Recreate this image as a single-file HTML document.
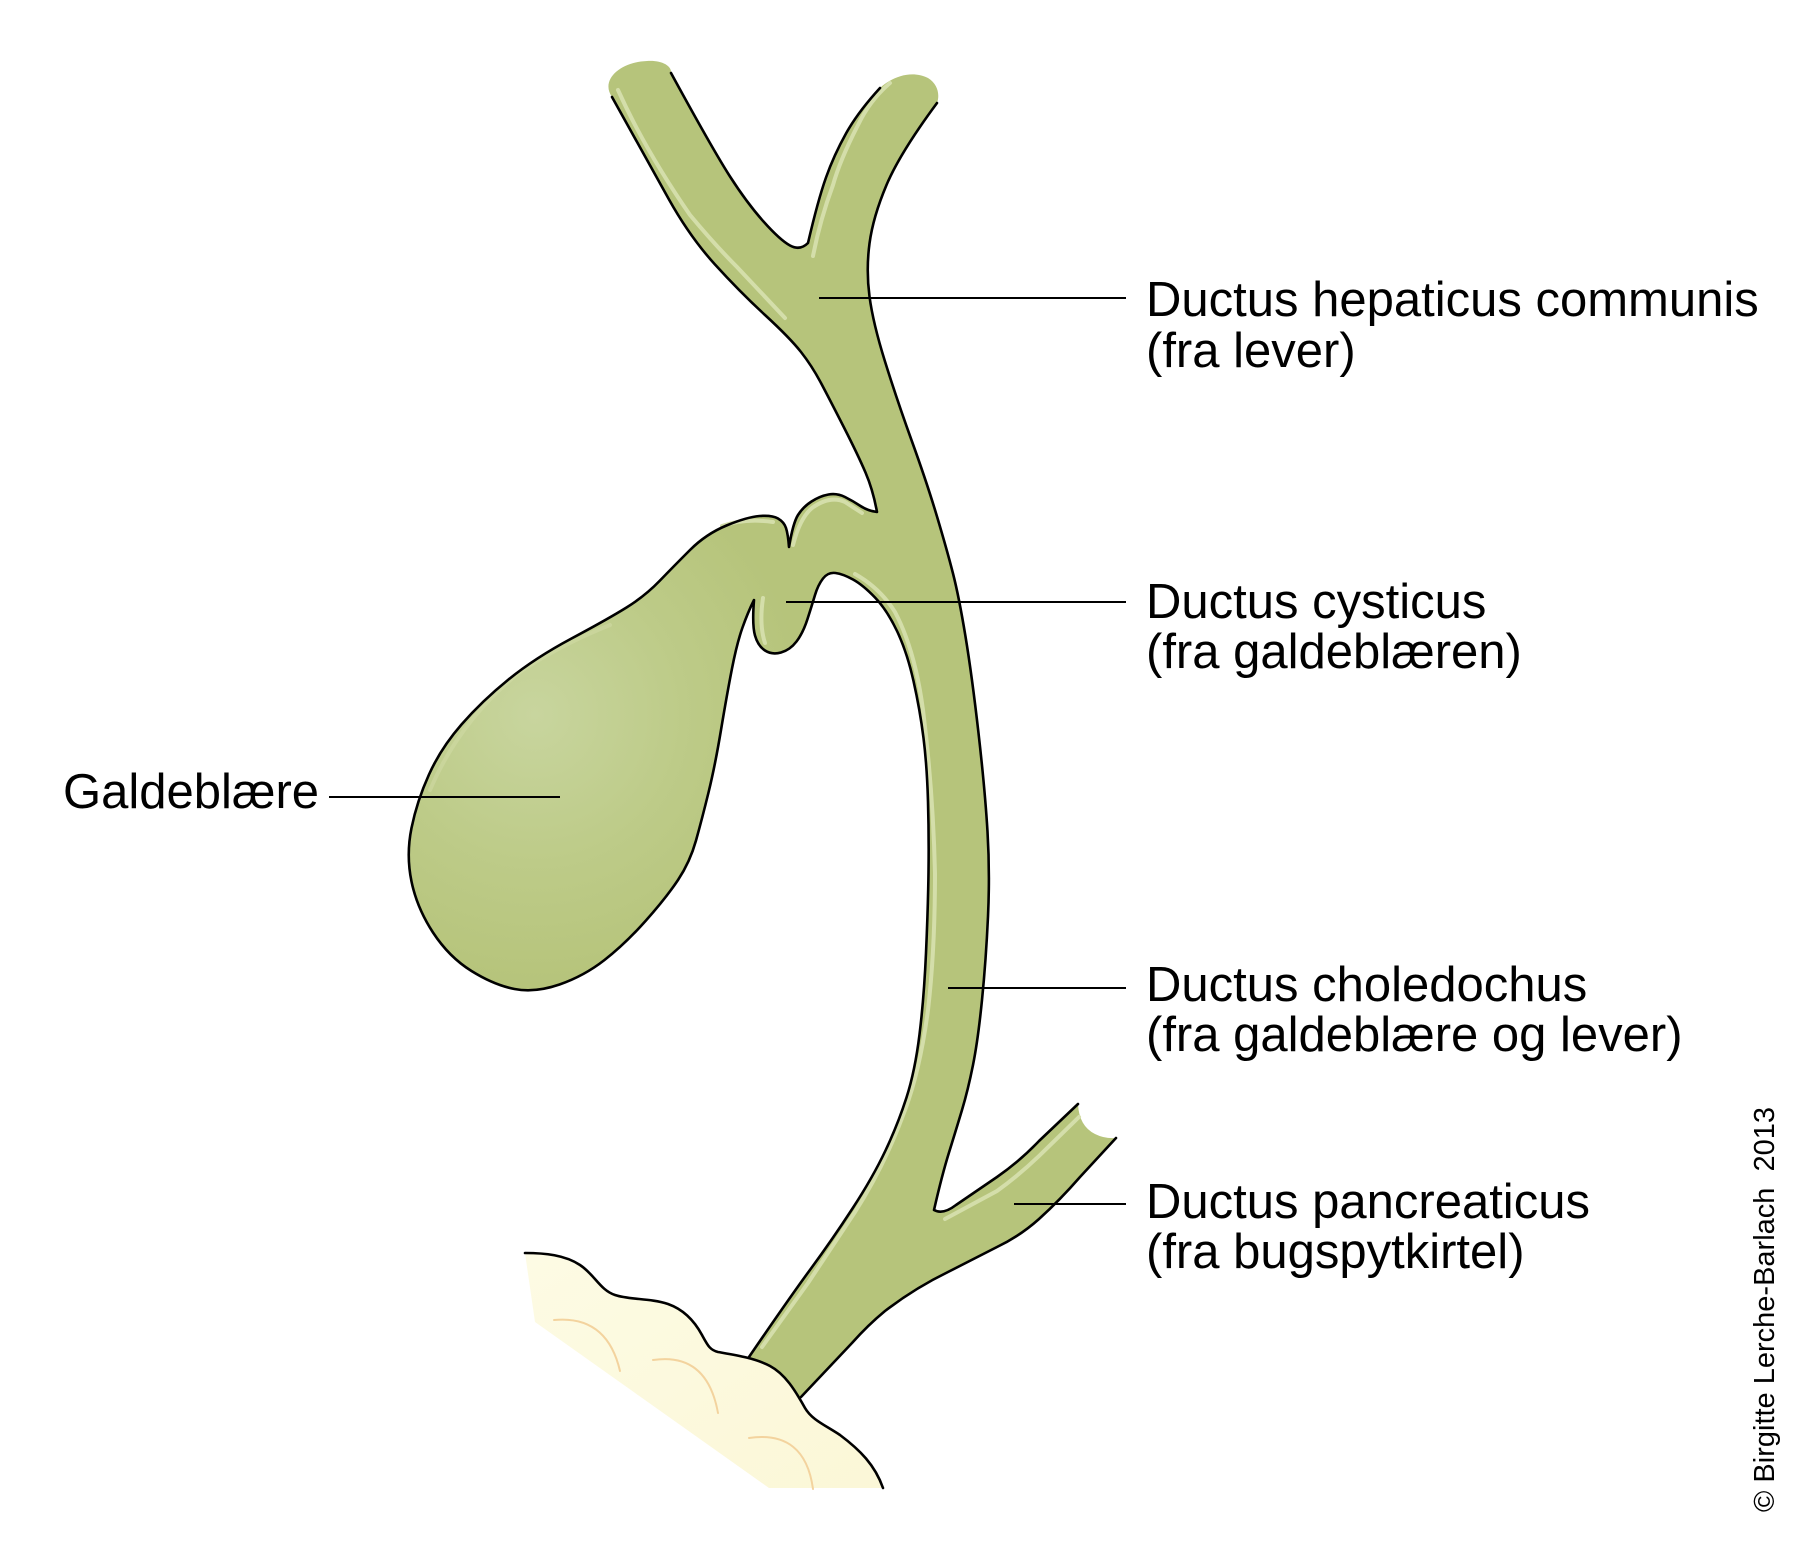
<!DOCTYPE html>
<html>
<head>
<meta charset="utf-8">
<style>
  html,body{margin:0;padding:0;background:#fff;}
  svg{display:block;}
  text{font-family:"Liberation Sans",Arial,sans-serif;fill:#000;}
</style>
</head>
<body>
<svg width="1813" height="1554" viewBox="0 0 1813 1554" xmlns="http://www.w3.org/2000/svg">
  <defs>
    <radialGradient id="gb" gradientUnits="userSpaceOnUse" cx="535" cy="715" r="270">
      <stop offset="0" stop-color="#c8d59e"/>
      <stop offset="0.55" stop-color="#bdcb88"/>
      <stop offset="1" stop-color="#b6c47b"/>
    </radialGradient>
    <linearGradient id="blob" x1="0" y1="0" x2="1" y2="1">
      <stop offset="0" stop-color="#fdfbe4"/>
      <stop offset="1" stop-color="#fbf7d7"/>
    </linearGradient>
  </defs>

  <!-- Duct system + gallbladder fill -->
  <path fill="url(#gb)" d="
    M612,97 C600,80 620,62 647,61 C662,60 672,66 671,73
    Q713,150 730,176.5 Q747,203 763.5,221.5 Q780,240 790,245.5 Q800,251 808,243
    Q818,200 826,177.5 Q834,155 846,133.5 Q858,112 880,88
    C893,76 912,70 928,78 C938,84 940,95 937,103
    Q900,153 886.5,185 Q873,217 869.5,243.5 Q866,270 869.5,296.5 Q873,323 885,361.5 Q897,400 912,441.5 Q927,483 937,516.5 Q947,550 953,573.5 Q959,597 965.5,636.5 Q972,676 978.5,733 Q985,790 987.5,831.5 Q990,873 988,916.5 Q986,960 982,1000 Q978,1040 973,1065 Q968,1090 962,1110 Q956,1130 949,1152.5 Q942,1175 934,1210
    Q943,1215 956,1205 L997,1177 Q1020,1161 1039,1141 L1078,1104
    Q1079,1126 1095,1134 Q1105,1139 1116,1138
    L1080,1177 Q1060,1200 1039,1219 Q1020,1236 997,1247 L948,1272 Q915,1288 885,1311 Q868,1325 852,1343 L801,1397
    L790,1410 L745,1370 L749,1357
    Q790,1297 811,1268.5 Q832,1240 852.5,1208.5 Q873,1177 885.5,1150.5 Q898,1124 906.5,1097.5 Q915,1071 919.5,1034.5 Q924,998 926,953 Q928,908 928.5,872.5 Q929,837 928,801.5 Q927,766 923.5,738 Q920,710 913.5,681 Q907,652 897,631 Q887,610 875,597.5 Q863,585 853,579.5 Q843,574 835.5,573 Q828,572 823,578.5 Q818,585 815,595 Q812,605 807.5,619 Q803,633 796.5,641.5 Q790,650 781,652.5 Q772,655 765,650.5 Q758,646 755,635.5 Q752,625 754,600
    Q748,612 742.5,627.5 Q737,643 732,668.5 Q727,694 721,730 Q715,766 708.5,792.5 Q702,819 696,840.5 Q690,862 678,880 Q666,898 645.5,921 Q625,944 604.5,960 Q584,976 559.5,984.5 Q535,993 514.5,989 Q494,985 471.5,971 Q449,957 433,932.5 Q417,908 411.5,881.5 Q406,855 411.5,828 Q417,801 429,774.5 Q441,748 461.5,724.5 Q482,701 508.5,679.5 Q535,658 571.5,638.5 Q608,619 626.5,607.5 Q645,596 659.5,581 Q674,566 690,550 Q706,534 726.5,525.5 Q747,517 759.5,516 Q772,515 778,518.5 Q784,522 786,528 Q788,534 789,547
    Q793,523 798,515 Q803,507 811.5,501.5 Q820,496 828.5,494.5 Q837,493 845,497 Q853,501 860.5,506 Q868,511 877,512
    Q873,490 865.5,472.5 Q858,455 844,427.5 Q830,400 821,383 Q812,366 801,352 Q790,338 765,315 Q740,292 715,264.5 Q690,237 669,199.5 Q648,162 612,97 Z"/>

  <!-- Highlights -->
  <g fill="none" stroke="#d4deaa" stroke-width="4" stroke-linecap="round" stroke-linejoin="round">
    <path d="M618,90 Q645,150 690,215 Q715,245 737,267 L785,318"/>
    <path d="M890,83 Q870,100 858,125 Q840,160 833,185 Q820,220 813,256"/>
    <path d="M793,545 Q800,518 812,508 Q830,495 845,502 L862,513"/>
    <path d="M722,526 Q745,518 773,522"/>
    <path d="M763,598 Q759,625 765,643"/>
    <path d="M855,574 Q880,588 895,612 Q915,650 923,710 Q933,790 935,873 Q935,950 928,1010 Q920,1070 905,1110 Q885,1165 855,1212 L808,1283 L762,1347"/>
    <path d="M1079,1117 L1039,1156 Q1018,1176 997,1191 L945,1219"/>
    <path d="M430,790 Q460,720 520,672 Q560,645 610,625" stroke-opacity="0.45"/>
  </g>

  <!-- Outlines -->
  <g fill="none" stroke="#000" stroke-width="2.6" stroke-linejoin="round" stroke-linecap="round">
    <path d="M671,73 Q713,150 730,176.5 Q747,203 763.5,221.5 Q780,240 790,245.5 Q800,251 808,243
      Q818,200 826,177.5 Q834,155 846,133.5 Q858,112 880,88"/>
    <path d="M937,103 Q900,153 886.5,185 Q873,217 869.5,243.5 Q866,270 869.5,296.5 Q873,323 885,361.5 Q897,400 912,441.5 Q927,483 937,516.5 Q947,550 953,573.5 Q959,597 965.5,636.5 Q972,676 978.5,733 Q985,790 987.5,831.5 Q990,873 988,916.5 Q986,960 982,1000 Q978,1040 973,1065 Q968,1090 962,1110 Q956,1130 949,1152.5 Q942,1175 934,1210
      Q943,1215 956,1205 L997,1177 Q1020,1161 1039,1141 L1078,1104"/>
    <path d="M1116,1138 L1080,1177 Q1060,1200 1039,1219 Q1020,1236 997,1247 L948,1272 Q915,1288 885,1311 Q868,1325 852,1343 L801,1397"/>
    <path d="M749,1357 Q790,1297 811,1268.5 Q832,1240 852.5,1208.5 Q873,1177 885.5,1150.5 Q898,1124 906.5,1097.5 Q915,1071 919.5,1034.5 Q924,998 926,953 Q928,908 928.5,872.5 Q929,837 928,801.5 Q927,766 923.5,738 Q920,710 913.5,681 Q907,652 897,631 Q887,610 875,597.5 Q863,585 853,579.5 Q843,574 835.5,573 Q828,572 823,578.5 Q818,585 815,595 Q812,605 807.5,619 Q803,633 796.5,641.5 Q790,650 781,652.5 Q772,655 765,650.5 Q758,646 755,635.5 Q752,625 754,600
      Q748,612 742.5,627.5 Q737,643 732,668.5 Q727,694 721,730 Q715,766 708.5,792.5 Q702,819 696,840.5 Q690,862 678,880 Q666,898 645.5,921 Q625,944 604.5,960 Q584,976 559.5,984.5 Q535,993 514.5,989 Q494,985 471.5,971 Q449,957 433,932.5 Q417,908 411.5,881.5 Q406,855 411.5,828 Q417,801 429,774.5 Q441,748 461.5,724.5 Q482,701 508.5,679.5 Q535,658 571.5,638.5 Q608,619 626.5,607.5 Q645,596 659.5,581 Q674,566 690,550 Q706,534 726.5,525.5 Q747,517 759.5,516 Q772,515 778,518.5 Q784,522 786,528 Q788,534 789,547
      Q793,523 798,515 Q803,507 811.5,501.5 Q820,496 828.5,494.5 Q837,493 845,497 Q853,501 860.5,506 Q868,511 877,512
      Q873,490 865.5,472.5 Q858,455 844,427.5 Q830,400 821,383 Q812,366 801,352 Q790,338 765,315 Q740,292 715,264.5 Q690,237 669,199.5 Q648,162 612,97"/>
  </g>

  <!-- Pancreas / duodenum blob -->
  <path fill="url(#blob)" d="M525,1253 C545,1253 565,1255 580,1265 C595,1275 600,1290 615,1295 C630,1300 650,1298 668,1304 C685,1310 695,1322 702,1335 C708,1346 710,1350 718,1352 C735,1355 755,1358 770,1366 C785,1374 795,1390 805,1408 C812,1420 825,1425 840,1435 C860,1450 875,1465 883,1488 L769,1488 L535,1322 Z"/>
  <g fill="none" stroke="#f3d39e" stroke-width="2" stroke-linecap="round">
    <path d="M554,1320 Q607,1315 620,1371"/>
    <path d="M653,1360 Q707,1352 718,1413"/>
    <path d="M749,1438 Q805,1430 813,1489"/>
  </g>
  <path fill="none" stroke="#000" stroke-width="2.6" stroke-linecap="round" stroke-linejoin="round" d="M525,1253 C545,1253 565,1255 580,1265 C595,1275 600,1290 615,1295 C630,1300 650,1298 668,1304 C685,1310 695,1322 702,1335 C708,1346 710,1350 718,1352 C735,1355 755,1358 770,1366 C785,1374 795,1390 805,1408 C812,1420 825,1425 840,1435 C860,1450 875,1465 883,1488"/>

  <!-- Leader lines -->
  <g stroke="#000" stroke-width="2">
    <line x1="819" y1="298" x2="1126" y2="298"/>
    <line x1="786" y1="602" x2="1126" y2="602"/>
    <line x1="329" y1="797" x2="560" y2="797"/>
    <line x1="948" y1="988" x2="1126" y2="988"/>
    <line x1="1014" y1="1204" x2="1126" y2="1204"/>
  </g>

  <!-- Labels -->
  <g font-size="49">
    <text x="1146" y="316">Ductus hepaticus communis</text>
    <text x="1146" y="367">(fra lever)</text>
    <text x="1146" y="618">Ductus cysticus</text>
    <text x="1146" y="668">(fra galdeblæren)</text>
    <text x="63" y="808">Galdeblære</text>
    <text x="1146" y="1001">Ductus choledochus</text>
    <text x="1146" y="1051">(fra galdeblære og lever)</text>
    <text x="1146" y="1218">Ductus pancreaticus</text>
    <text x="1146" y="1268">(fra bugspytkirtel)</text>
  </g>

  <text font-size="29" transform="translate(1774,1512) rotate(-90)" xml:space="preserve">© Birgitte Lerche-Barlach  2013</text>
</svg>
</body>
</html>
